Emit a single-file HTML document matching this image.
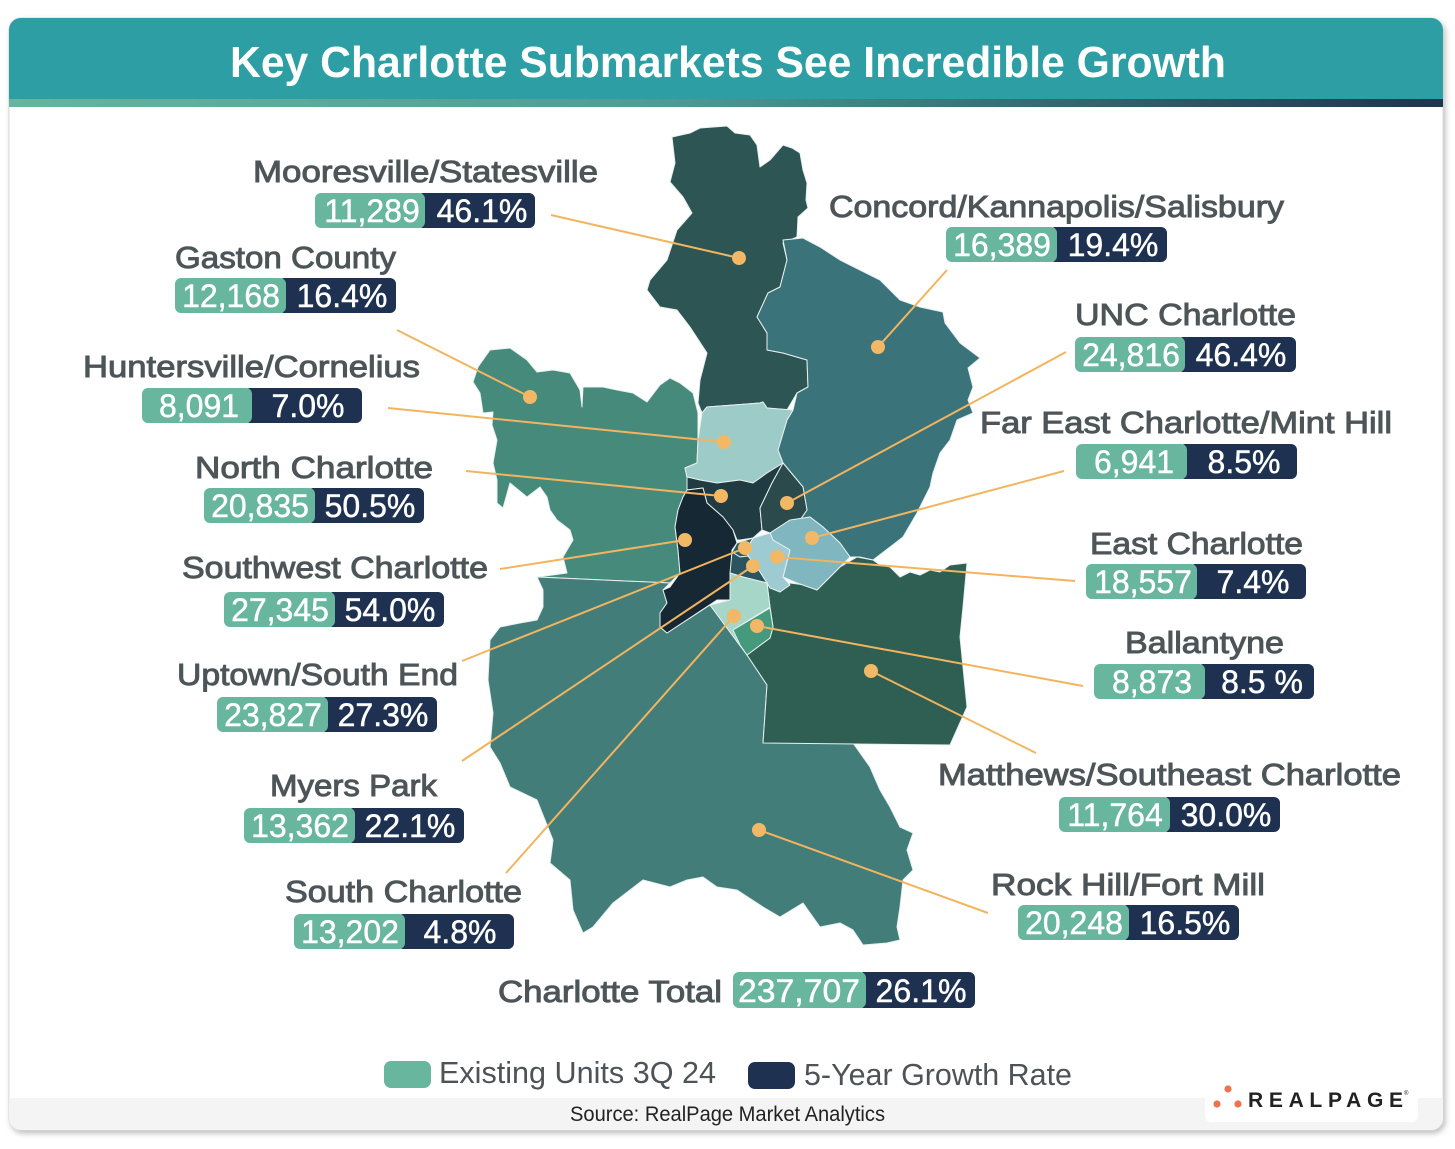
<!DOCTYPE html>
<html><head><meta charset="utf-8"><style>
html,body{margin:0;padding:0;background:#fff;}
svg{display:block;}
text{font-family:"Liberation Sans",Arial,sans-serif;}
.nm{font-size:31px;fill:#4d5558;stroke:#4d5558;stroke-width:0.95;}
.num{font-size:32px;fill:#fff;text-anchor:middle;stroke:#fff;stroke-width:0.45;}
.ld{stroke:#f2b45f;stroke-width:2;fill:none;}
.dt{fill:#f2b866;}
</style></head><body>
<svg width="1455" height="1149" viewBox="0 0 1455 1149" xmlns="http://www.w3.org/2000/svg">
<defs>
<filter id="sh" x="-5%" y="-5%" width="110%" height="110%"><feDropShadow dx="2" dy="3" stdDeviation="3" flood-color="#000" flood-opacity="0.25"/></filter>
<linearGradient id="strip" x1="0" x2="1" y1="0" y2="0"><stop offset="0" stop-color="#66b59e"/><stop offset="0.45" stop-color="#4f9c96"/><stop offset="1" stop-color="#1e3550"/></linearGradient>
<clipPath id="cardclip"><rect x="9" y="18" width="1434" height="1112" rx="12"/></clipPath>
</defs>
<rect x="9" y="18" width="1434" height="1112" rx="12" fill="#fff" stroke="#d8d8d8" stroke-width="1" filter="url(#sh)"/>
<g clip-path="url(#cardclip)">
<rect x="9" y="18" width="1434" height="82" fill="#2d9ea4"/>
<rect x="9" y="99" width="1434" height="8" fill="url(#strip)"/>
<rect x="9" y="1098" width="1434" height="40" fill="#f4f4f4"/>
</g>
<text x="230" y="77" font-size="44" font-weight="bold" fill="#fff" textLength="996" lengthAdjust="spacingAndGlyphs">Key Charlotte Submarkets See Incredible Growth</text>

<!-- MAP -->
<g stroke="#e8f0ef" stroke-width="1" stroke-linejoin="round">
<polygon fill="#2c5553" points="672,137 690,133 700,128 727,126 735,133 750,135 757,145 760,167 770,160 783,145 792,148 800,153 803,170 807,183 806,200 808,208 798,217 797,237 783,243 787,260 780,287 768,293 757,317 767,333 767,350 783,353 807,360 808,387 797,393 787,410 767,408 763,402 760,403 707,407 702,413 698,403 700,380 707,353 690,327 677,310 660,307 647,290 650,280 667,260 677,230 692,213 683,197 670,182 675,163"/>
<polygon fill="#3b737a" points="783,240 803,238 820,247 840,260 860,270 880,280 887,287 900,300 920,307 943,312 945,323 960,343 980,358 968,368 973,387 968,400 973,413 957,420 950,440 940,453 933,473 930,487 917,513 903,537 890,547 873,560 860,557 850,557 840,543 823,527 810,517 800,520 807,510 803,487 783,463 778,450 787,420 793,410 797,393 808,387 807,360 783,353 767,350 767,333 757,317 768,293 780,287 787,260"/>
<polygon fill="#458a7b" points="490,350 510,348 527,360 537,372 553,370 570,373 580,390 582,407 583,387 603,387 617,390 633,393 647,402 660,385 670,378 680,383 693,393 698,413 698,440 697,463 685,468 687,477 687,490 683,497 678,510 675,527 678,550 680,573 670,583 538,577 567,573 563,557 573,540 570,530 557,520 550,510 547,497 540,487 527,497 510,483 503,508 497,503 497,480 493,463 497,440 492,425 493,412 483,413 480,393 473,382 478,367"/>
<polygon fill="#437d7a" points="537,577 670,583 663,590 667,603 660,613 660,627 667,633 710,605 747,655 767,685 763,743 853,743 870,767 880,790 890,807 900,827 913,833 907,850 913,870 903,880 900,907 897,927 900,940 887,943 863,945 853,930 840,923 820,927 803,903 780,917 763,907 737,890 717,887 703,877 687,880 670,887 643,880 613,903 593,927 583,933 573,910 570,880 550,863 553,840 537,800 510,787 500,763 490,747 493,713 488,680 490,640 500,627 520,623 537,620 543,607 543,590"/>
<polygon fill="#2f5e52" points="767,583 780,592 790,583 805,585 817,590 840,567 857,557 873,560 880,565 890,567 900,577 910,572 920,575 930,570 940,572 950,565 967,563 963,607 960,637 967,707 950,745 763,743 767,685 747,655 770,638 773,627 770,607"/>
<polygon fill="#9ccbc8" points="702,413 707,407 760,403 763,402 767,408 793,410 787,420 778,450 783,463 767,473 753,483 740,480 717,483 700,480 687,477 685,468 697,463 698,440"/>
<polygon fill="#213b42" points="700,480 717,483 740,480 753,483 767,473 783,463 772,483 760,508 762,530 753,538 740,540 737,540 733,530 723,517 707,503 703,488 687,490 687,477"/>
<polygon fill="#2a4a4c" points="783,463 803,487 807,510 800,520 790,520 770,533 762,530 760,508 772,483"/>
<polygon fill="#172835" points="687,490 703,488 707,503 723,517 733,530 737,543 732,550 730,600 717,600 667,633 660,627 660,613 667,603 663,590 670,587 680,573 678,550 675,527 678,510 683,497"/>
<polygon fill="#7fb6c0" points="790,520 810,517 823,527 840,543 850,557 840,567 817,590 797,583 783,577 790,550 773,540 770,533"/>
<polygon fill="#9ecbd2" points="753,538 770,533 773,540 790,550 783,577 790,585 780,592 770,588 767,583 760,572 750,560 746,550"/>
<polygon fill="#2d5a5c" points="737,543 753,538 746,550 748,556 740,557 732,552"/>
<polygon fill="#2a5560" points="732,552 740,557 748,556 760,572 767,583 743,577 730,573"/>
<polygon fill="#a6d6c8" points="710,605 730,600 730,573 743,577 767,583 770,607 733,630 747,655"/>
<polygon fill="#459a7e" points="733,630 770,608 773,627 770,638 747,655 740,645"/>
</g>

<!-- leader lines -->
<g class="ld">
<line x1="551" y1="215" x2="739" y2="258"/>
<line x1="397" y1="330" x2="530" y2="397"/>
<line x1="947" y1="270" x2="878" y2="347"/>
<line x1="1066" y1="352" x2="787" y2="503"/>
<line x1="388" y1="408" x2="724" y2="442"/>
<line x1="1064" y1="471" x2="812" y2="538"/>
<line x1="466" y1="471" x2="721" y2="496"/>
<line x1="1075" y1="581" x2="777" y2="557"/>
<line x1="500" y1="569" x2="685" y2="540"/>
<line x1="1083" y1="686" x2="757" y2="626"/>
<line x1="462" y1="661" x2="745" y2="548"/>
<line x1="1036" y1="753" x2="871" y2="671"/>
<line x1="462" y1="761" x2="753" y2="566"/>
<line x1="988" y1="913" x2="759" y2="830"/>
<line x1="506" y1="873" x2="734" y2="616"/>
</g>
<g class="dt">
<circle cx="739" cy="258" r="7"/><circle cx="530" cy="397" r="7"/><circle cx="878" cy="347" r="7"/>
<circle cx="787" cy="503" r="7"/><circle cx="724" cy="442" r="7"/><circle cx="812" cy="538" r="7"/>
<circle cx="721" cy="496" r="7"/><circle cx="777" cy="557" r="7"/><circle cx="685" cy="540" r="7"/>
<circle cx="757" cy="626" r="7"/><circle cx="745" cy="548" r="7"/><circle cx="871" cy="671" r="7"/>
<circle cx="753" cy="566" r="7"/><circle cx="759" cy="830" r="7"/><circle cx="734" cy="616" r="7"/>
</g>

<!-- labels -->
<g>
<text class="nm" x="253" y="182" textLength="345" lengthAdjust="spacingAndGlyphs">Mooresville/Statesville</text>
<text class="nm" x="175" y="268" textLength="221" lengthAdjust="spacingAndGlyphs">Gaston County</text>
<text class="nm" x="829" y="217" textLength="455" lengthAdjust="spacingAndGlyphs">Concord/Kannapolis/Salisbury</text>
<text class="nm" x="1075" y="325" textLength="221" lengthAdjust="spacingAndGlyphs">UNC Charlotte</text>
<text class="nm" x="83" y="377" textLength="337" lengthAdjust="spacingAndGlyphs">Huntersville/Cornelius</text>
<text class="nm" x="980" y="433" textLength="412" lengthAdjust="spacingAndGlyphs">Far East Charlotte/Mint Hill</text>
<text class="nm" x="195" y="478" textLength="238" lengthAdjust="spacingAndGlyphs">North Charlotte</text>
<text class="nm" x="1090" y="554" textLength="213" lengthAdjust="spacingAndGlyphs">East Charlotte</text>
<text class="nm" x="182" y="578" textLength="306" lengthAdjust="spacingAndGlyphs">Southwest Charlotte</text>
<text class="nm" x="1125" y="653" textLength="159" lengthAdjust="spacingAndGlyphs">Ballantyne</text>
<text class="nm" x="177" y="685" textLength="281" lengthAdjust="spacingAndGlyphs">Uptown/South End</text>
<text class="nm" x="938" y="785" textLength="463" lengthAdjust="spacingAndGlyphs">Matthews/Southeast Charlotte</text>
<text class="nm" x="270" y="796" textLength="167" lengthAdjust="spacingAndGlyphs">Myers Park</text>
<text class="nm" x="991" y="895" textLength="274" lengthAdjust="spacingAndGlyphs">Rock Hill/Fort Mill</text>
<text class="nm" x="285" y="902" textLength="237" lengthAdjust="spacingAndGlyphs">South Charlotte</text>
<text class="nm" x="498" y="1002" font-size="32" textLength="224" lengthAdjust="spacingAndGlyphs">Charlotte Total</text>
</g>

<!-- badges -->
<g>
<rect x="417" y="193" width="118" height="35" rx="6" fill="#1e3150"/><rect x="315" y="193" width="110" height="35" rx="6" fill="#67b69d"/>
<text class="num" x="372" y="222">11,289</text><text class="num" x="482" y="222">46.1%</text>
<rect x="278" y="278" width="118" height="35" rx="6" fill="#1e3150"/><rect x="175" y="278" width="111" height="35" rx="6" fill="#67b69d"/>
<text class="num" x="231" y="307">12,168</text><text class="num" x="342" y="307">16.4%</text>
<rect x="1049" y="227" width="118" height="35" rx="6" fill="#1e3150"/><rect x="946" y="227" width="111" height="35" rx="6" fill="#67b69d"/>
<text class="num" x="1002" y="256">16,389</text><text class="num" x="1113" y="256">19.4%</text>
<rect x="1177" y="337" width="119" height="35" rx="6" fill="#1e3150"/><rect x="1075" y="337" width="110" height="35" rx="6" fill="#67b69d"/>
<text class="num" x="1131" y="366">24,816</text><text class="num" x="1241" y="366">46.4%</text>
<rect x="244" y="388" width="118" height="35" rx="6" fill="#1e3150"/><rect x="142" y="388" width="110" height="35" rx="6" fill="#67b69d"/>
<text class="num" x="199" y="417">8,091</text><text class="num" x="308" y="417">7.0%</text>
<rect x="1179" y="444" width="118" height="35" rx="6" fill="#1e3150"/><rect x="1076" y="444" width="111" height="35" rx="6" fill="#67b69d"/>
<text class="num" x="1134" y="473">6,941</text><text class="num" x="1244" y="473">8.5%</text>
<rect x="307" y="488" width="117" height="35" rx="6" fill="#1e3150"/><rect x="204" y="488" width="111" height="35" rx="6" fill="#67b69d"/>
<text class="num" x="260" y="517">20,835</text><text class="num" x="370" y="517">50.5%</text>
<rect x="1189" y="564" width="117" height="35" rx="6" fill="#1e3150"/><rect x="1086" y="564" width="111" height="35" rx="6" fill="#67b69d"/>
<text class="num" x="1143" y="593">18,557</text><text class="num" x="1253" y="593">7.4%</text>
<rect x="327" y="592" width="117" height="35" rx="6" fill="#1e3150"/><rect x="224" y="592" width="111" height="35" rx="6" fill="#67b69d"/>
<text class="num" x="280" y="621">27,345</text><text class="num" x="390" y="621">54.0%</text>
<rect x="1197" y="664" width="117" height="35" rx="6" fill="#1e3150"/><rect x="1094" y="664" width="111" height="35" rx="6" fill="#67b69d"/>
<text class="num" x="1152" y="693">8,873</text><text class="num" x="1262" y="693">8.5 %</text>
<rect x="320" y="697" width="117" height="35" rx="6" fill="#1e3150"/><rect x="217" y="697" width="111" height="35" rx="6" fill="#67b69d"/>
<text class="num" x="273" y="726">23,827</text><text class="num" x="383" y="726">27.3%</text>
<rect x="1162" y="797" width="118" height="35" rx="6" fill="#1e3150"/><rect x="1059" y="797" width="111" height="35" rx="6" fill="#67b69d"/>
<text class="num" x="1115" y="826">11,764</text><text class="num" x="1226" y="826">30.0%</text>
<rect x="347" y="808" width="117" height="35" rx="6" fill="#1e3150"/><rect x="244" y="808" width="111" height="35" rx="6" fill="#67b69d"/>
<text class="num" x="300" y="837">13,362</text><text class="num" x="410" y="837">22.1%</text>
<rect x="1121" y="905" width="118" height="35" rx="6" fill="#1e3150"/><rect x="1018" y="905" width="111" height="35" rx="6" fill="#67b69d"/>
<text class="num" x="1074" y="934">20,248</text><text class="num" x="1185" y="934">16.5%</text>
<rect x="397" y="914" width="117" height="35" rx="6" fill="#1e3150"/><rect x="294" y="914" width="111" height="35" rx="6" fill="#67b69d"/>
<text class="num" x="350" y="943">13,202</text><text class="num" x="460" y="943">4.8%</text>
<rect x="858" y="972" width="117" height="36" rx="6" fill="#1e3150"/><rect x="733" y="972" width="133" height="36" rx="6" fill="#67b69d"/>
<text class="num" x="799" y="1002" textLength="122" lengthAdjust="spacingAndGlyphs">237,707</text><text class="num" x="921" y="1002" textLength="91" lengthAdjust="spacingAndGlyphs">26.1%</text>
</g>

<!-- legend -->
<rect x="384" y="1061" width="47" height="27" rx="7" fill="#67b69d"/>
<text x="439" y="1083" font-size="31" fill="#4d5356" textLength="277" lengthAdjust="spacingAndGlyphs">Existing Units 3Q 24</text>
<rect x="748" y="1062" width="47" height="27" rx="7" fill="#1e3150"/>
<text x="804" y="1085" font-size="31" fill="#4d5356" textLength="268" lengthAdjust="spacingAndGlyphs">5-Year Growth Rate</text>

<text x="570" y="1121" font-size="21" fill="#222" textLength="315" lengthAdjust="spacingAndGlyphs">Source: RealPage Market Analytics</text>

<!-- logo -->
<rect x="1205" y="1080" width="213" height="42" rx="6" fill="#fff"/>
<circle cx="1228" cy="1089" r="3.6" fill="#ec7350"/>
<circle cx="1217" cy="1104" r="3.6" fill="#ec7350"/>
<circle cx="1238" cy="1104" r="3.6" fill="#ec7350"/>
<text x="1248" y="1107" font-size="21" font-weight="bold" fill="#222" textLength="155" lengthAdjust="spacing">REALPAGE</text>
<text x="1404" y="1095" font-size="6" fill="#222">®</text>
</svg>
</body></html>
